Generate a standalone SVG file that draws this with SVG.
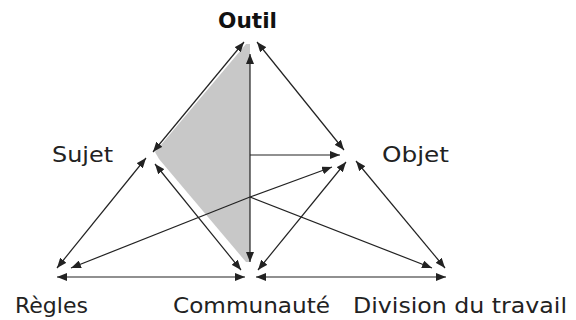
<svg xmlns="http://www.w3.org/2000/svg" width="576" height="320" viewBox="0 0 576 320">
<style>
.lbl{font-family:"DejaVu Sans",Verdana,sans-serif;font-size:22px;fill:#222}
.bold{font-weight:bold;font-size:21px;fill:#111}
.ln{stroke:#222;stroke-width:1.2;fill:none}
.d{marker-start:url(#ah);marker-end:url(#ah)}
.s{marker-end:url(#ah)}
</style>
<defs>
<marker id="ah" viewBox="0 0 10 8" refX="10" refY="4" markerWidth="10" markerHeight="8" markerUnits="userSpaceOnUse" orient="auto-start-reverse">
<path d="M0,0 L10,4 L0,8 Z" fill="#222"/>
</marker>
</defs>
<rect width="576" height="320" fill="#fff"/>
<polygon points="246,44 155,152 159,159 246,262 250,262 250,44" fill="#c8c8c8"/>
<g id="outil"><text class="lbl bold" x="218" y="28" textLength="59" lengthAdjust="spacingAndGlyphs">Outil</text></g>
<g id="sujet"><text class="lbl" x="52" y="162" textLength="61" lengthAdjust="spacingAndGlyphs">Sujet</text></g>
<g id="objet"><text class="lbl" x="382" y="162" textLength="67" lengthAdjust="spacingAndGlyphs">Objet</text></g>
<g id="regles"><text class="lbl" x="15" y="313" textLength="73" lengthAdjust="spacingAndGlyphs">Règles</text></g>
<g id="communaute"><text class="lbl" x="173" y="313" textLength="157" lengthAdjust="spacingAndGlyphs">Communauté</text></g>
<g id="division"><text class="lbl" x="353" y="313" textLength="214" lengthAdjust="spacingAndGlyphs">Division du travail</text></g>
<g id="connectors">
<line class="ln d" x1="244" y1="42" x2="153" y2="152"/>
<line class="ln d" x1="257" y1="42" x2="344" y2="150"/>
<line class="ln d" x1="250" y1="262" x2="250" y2="54"/>
<line class="ln s" x1="250" y1="155" x2="340" y2="155"/>
<line class="ln s" x1="250" y1="197" x2="332" y2="167"/>
<line class="ln s" x1="250" y1="197" x2="432" y2="268"/>
<line class="ln s" x1="250" y1="197" x2="71" y2="268"/>
<line class="ln d" x1="146" y1="158" x2="57" y2="268"/>
<line class="ln d" x1="155" y1="164" x2="241" y2="270"/>
<line class="ln d" x1="57" y1="277" x2="245" y2="277"/>
<line class="ln d" x1="258" y1="270" x2="346" y2="162"/>
<line class="ln d" x1="256" y1="277" x2="446" y2="277"/>
<line class="ln d" x1="356" y1="161" x2="445" y2="268"/>
</g>
</svg>
